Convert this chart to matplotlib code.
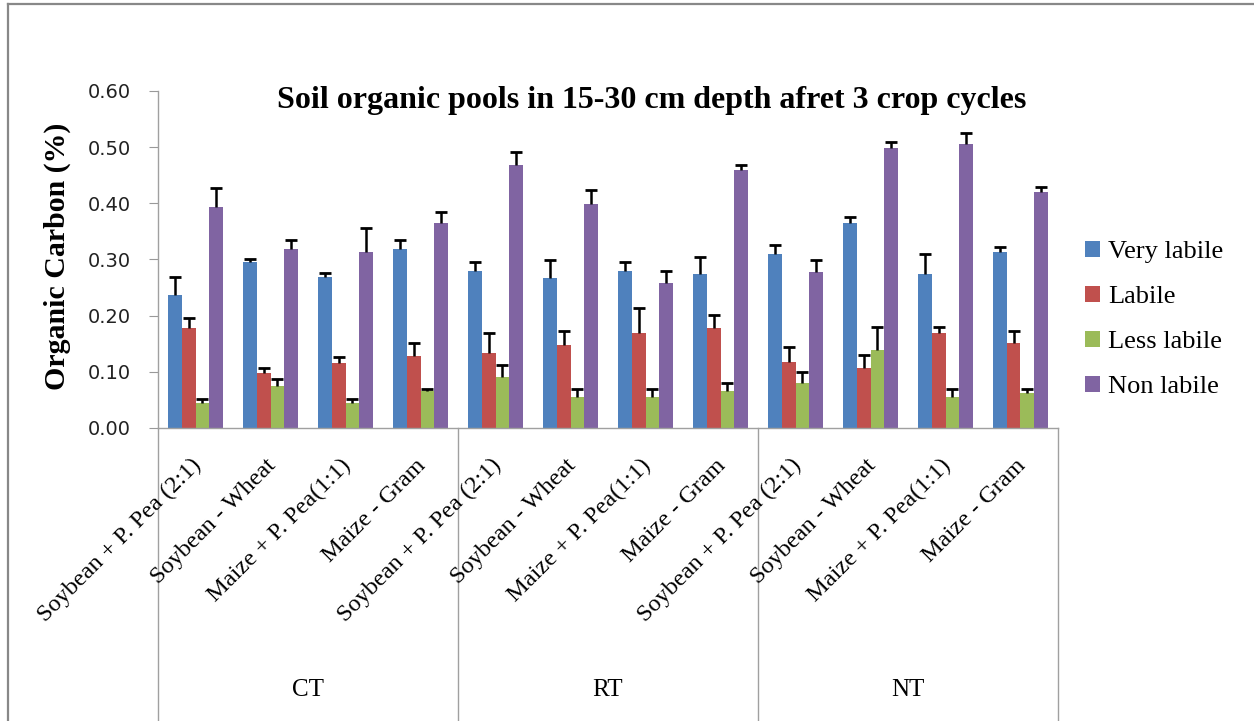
import numpy as np
import matplotlib
matplotlib.use("Agg")
import matplotlib.pyplot as plt
from matplotlib.lines import Line2D
from matplotlib.patches import Patch
import matplotlib.transforms as mtransforms

# Data
tillage = ["CT", "RT", "NT"]
crops = ["Soybean + P. Pea (2:1)", "Soybean - Wheat", "Maize + P. Pea(1:1)", "Maize - Gram"]
categories = crops * 3

pools = ["Very labile", "Labile", "Less labile", "Non labile"]
colors = ["#4F81BD", "#C0504D", "#9BBB59", "#8064A2"]

very_labile = [0.236, 0.296, 0.269, 0.319, 0.280, 0.267, 0.280, 0.275, 0.309, 0.365, 0.275, 0.313]
labile = [0.178, 0.098, 0.115, 0.128, 0.134, 0.147, 0.169, 0.178, 0.117, 0.107, 0.169, 0.151]
less_labile = [0.045, 0.074, 0.045, 0.066, 0.090, 0.055, 0.055, 0.065, 0.080, 0.138, 0.055, 0.063]
non_labile = [0.393, 0.319, 0.313, 0.365, 0.469, 0.398, 0.259, 0.459, 0.278, 0.498, 0.505, 0.421]

# upper error bars (standard error)
err_very = [0.032, 0.005, 0.007, 0.015, 0.015, 0.032, 0.015, 0.029, 0.017, 0.011, 0.035, 0.009]
err_labile = [0.017, 0.008, 0.011, 0.023, 0.036, 0.026, 0.045, 0.023, 0.027, 0.023, 0.011, 0.021]
err_less = [0.007, 0.013, 0.007, 0.004, 0.022, 0.015, 0.015, 0.015, 0.019, 0.042, 0.015, 0.007]
err_non = [0.035, 0.016, 0.043, 0.020, 0.022, 0.026, 0.021, 0.009, 0.021, 0.011, 0.020, 0.008]

series = [very_labile, labile, less_labile, non_labile]
errors = [err_very, err_labile, err_less, err_non]

fig = plt.figure(figsize=(12.54, 7.21), dpi=100)
ax = fig.add_axes([0.126, 0.4064, 0.7177, 0.4674])

x = np.arange(len(categories))
w = 0.182
for k, (vals, errs) in enumerate(zip(series, errors)):
    pos = x + (k - 1.5) * w
    vals = np.array(vals)
    tops = vals + np.array(errs)
    ax.bar(pos, vals, width=w, color=colors[k], label=pools[k], zorder=2)
    # only the upper half of each error bar, with a cap on top
    ax.vlines(pos, vals, tops, colors="black", lw=1.8, zorder=3)
    ax.plot(pos, tops, ls="none", marker="_", ms=8, mew=2.0, color="black", zorder=3)

ax.set_xlim(-0.5, len(categories) - 0.5)
ax.set_ylim(0, 0.60)
ax.set_yticks(np.arange(0, 0.61, 0.10))
ax.set_yticklabels([f"{v:.2f}" for v in np.arange(0, 0.61, 0.10)],
                   fontsize=14, family="DejaVu Sans", color="#222222")
ax.tick_params(axis="y", length=6.5, color="#999999", pad=13)
ax.set_xticks([])
for s in ["top", "right"]:
    ax.spines[s].set_visible(False)
for s in ["left", "bottom"]:
    ax.spines[s].set_color("#A0A0A0")
    ax.spines[s].set_linewidth(1.0)

# two-level category axis
trans = mtransforms.blended_transform_factory(ax.transData, ax.transAxes)
for xs in [-0.5, 3.5, 7.5, 11.5]:
    ax.add_line(Line2D([xs, xs], [0, -0.87], transform=trans, color="#A0A0A0",
                       lw=1.0, clip_on=False))
for i, lab in enumerate(categories):
    ax.text(i - 0.07, -0.08, lab, transform=trans, rotation=45, ha="right", va="top",
            rotation_mode="anchor", fontsize=17.5, family="Liberation Serif")
for j, lab in enumerate(tillage):
    ax.text(4 * j + 1.5, -0.777, lab, transform=trans, ha="center", va="center",
            fontsize=18, family="Liberation Serif")

fig.text(0.5195, 0.861, "Soil organic pools in 15-30 cm depth afret 3 crop cycles",
         ha="center", va="center", fontsize=23, fontweight="bold", family="Liberation Serif")
fig.text(0.0455, 0.645, "Organic Carbon (%)", rotation=90, ha="center", va="center",
         fontsize=21.5, fontweight="bold", family="Liberation Serif")

handles = [Patch(facecolor=c, label=p) for c, p in zip(colors, pools)]
fig.legend(handles=handles, loc="center left", bbox_to_anchor=(0.8655, 0.557),
           frameon=False, handlelength=0.55, handleheight=0.55, handletextpad=0.3,
           labelspacing=0.86, borderpad=0, borderaxespad=0,
           prop={"family": "Liberation Serif", "size": 19})

# outer chart border (left and top visible)
fig.add_artist(Line2D([8 / 1254, 8 / 1254], [0, 1 - 4 / 721], transform=fig.transFigure,
                      color="#888888", lw=1.6))
fig.add_artist(Line2D([8 / 1254, 1], [1 - 4 / 721, 1 - 4 / 721], transform=fig.transFigure,
                      color="#888888", lw=1.6))

fig.savefig("out.png", dpi=100)
